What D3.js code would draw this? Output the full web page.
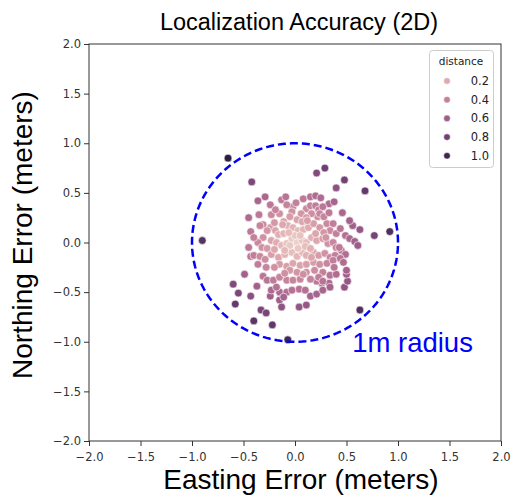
<!DOCTYPE html>
<html>
<head>
<meta charset="utf-8">
<script src="https://cdn.jsdelivr.net/npm/d3@7"></script>
<style>
  body { margin: 0; background: #fff; }
  svg { display: block; }
  .tick text { font-family: "DejaVu Sans", sans-serif; font-size: 11.5px; fill: #333; }
  .tick line { stroke: #333; }
</style>
</head>
<body>
<div id="chart"></div>
<script>
// easting / northing error (meters) for each fix
var errX = [
  -0.65, 0.21, 0.29, -0.42, 0.48, 0.40, 0.68, -0.90, 0.92, 0.77, 0.63, 0.56, 0.53,
  0.63, -0.07, -0.40, -0.22, -0.33, -0.28, -0.58, -0.55, -0.60, -0.43, -0.49, -0.37,
  -0.24, -0.15, -0.15, -0.13, -0.08, 0.04, 0.11, 0.04, 0.48, 0.51, 0.50, 0.33, 0.26,
  0.21, -0.43, -0.43, -0.36, -0.29, -0.13, -0.09, 0.08, 0.15, 0.20, 0.25, 0.33, 0.38,
  -0.24, -0.23, -0.02, -0.03, 0.11, 0.06, 0.15, 0.20, 0.23, 0.27, 0.22, 0.24, 0.16,
  0.11, 0.02, 0.07, -0.05, -0.11, -0.07, -0.15, -0.31, -0.34, -0.24, -0.27, -0.19,
  -0.16, -0.11, -0.02, 0.03, 0.08, 0.13, 0.18, 0.24, 0.31, 0.37, 0.34, 0.40, 0.44,
  0.49, 0.53, 0.58, 0.61, -0.31, -0.36, -0.32, -0.27, -0.23, -0.18, -0.13, -0.08,
  -0.03, 0.02, 0.07, 0.11, 0.16, 0.21, 0.27, 0.32, 0.37, 0.40, 0.45, 0.49, -0.40,
  -0.34, -0.29, -0.23, -0.16, -0.10, -0.03, 0.02, 0.07, 0.11, 0.18, 0.23, 0.29, 0.34,
  0.39, -0.15, -0.08, -0.02, 0.05, 0.11, 0.18, 0.24, 0.31, 0.37, 0.44, 0.47, -0.05,
  0.02, 0.11, 0.19, 0.27, 0.34, 0.40, -0.31, -0.27, -0.21, -0.15, -0.08, -0.02, 0.05,
  0.15, 0.23, 0.27, 0.50, -0.23, -0.18, -0.03, 0.10, 0.15, 0.21, 0.27, 0.34, -0.11,
  -0.05, 0.03, 0.10, 0.00, -0.10, 0.15, 0.05, -0.06,
  -0.19, -0.35, -0.08, 0.01, 0.28, 0.33, -0.40, -0.45, -0.20, -0.12, 0.20, 0.28,
  0.16, 0.43, 0.38, -0.20, -0.28, -0.36, 0.08, -0.10, 0.30, -0.45, 0.46, 0.12, -0.20
];
var errY = [
  0.85, 0.70, 0.75, 0.61, 0.63, 0.55, 0.52, 0.02, 0.11, 0.07, 0.13, 0.17, 0.22,
  -0.68, -0.98, -0.79, -0.83, -0.68, -0.71, -0.62, -0.51, -0.42, -0.54, -0.32, -0.44,
  -0.54, -0.50, -0.58, -0.65, -0.50, -0.65, -0.63, -0.47, -0.45, -0.39, -0.32, -0.41, -0.41,
  -0.39, 0.11, -0.14, 0.42, 0.46, 0.43, 0.46, 0.44, 0.46, 0.47, 0.45, 0.39, 0.41,
  0.38, 0.28, 0.36, 0.31, 0.34, 0.29, 0.37, 0.37, 0.33, 0.36, 0.26, 0.29, 0.29,
  0.25, 0.23, 0.21, 0.26, 0.21, 0.17, 0.29, 0.18, 0.17, 0.15, 0.12, 0.12,
  0.08, 0.09, 0.15, 0.12, 0.13, 0.15, 0.19, 0.15, 0.19, 0.19, 0.12, 0.09, 0.14,
  0.07, 0.04, 0.01, -0.03, 0.05, 0.00, -0.05, -0.06, 0.02, 0.00, -0.03, -0.01,
  0.04, 0.00, 0.02, 0.00, 0.05, 0.02, 0.04, -0.01, 0.00, -0.05, -0.08, -0.12, -0.13,
  -0.14, -0.17, -0.12, -0.15, -0.12, -0.10, -0.14, -0.10, -0.13, -0.10, -0.13, -0.11, -0.15,
  -0.13, -0.22, -0.24, -0.21, -0.23, -0.22, -0.20, -0.22, -0.21, -0.18, -0.16, -0.20, -0.28,
  -0.30, -0.30, -0.28, -0.30, -0.33, -0.32, -0.34, -0.38, -0.38, -0.35, -0.38, -0.38, -0.37,
  -0.37, -0.35, -0.39, -0.28, -0.48, -0.45, -0.48, -0.48, -0.54, -0.52, -0.48, -0.45, -0.55,
  -0.03, -0.06, -0.04, 0.07, -0.08, -0.06, 0.07, 0.10,
  0.33, 0.28, 0.38, 0.40, 0.26, 0.30, 0.05, -0.05, -0.07, 0.18, 0.09, 0.10,
  -0.15, -0.05, -0.25, -0.25, -0.25, -0.22, -0.32, -0.31, 0.05, 0.25, 0.30, 0.22, 0.20
];
var legendTicks = [0.2, 0.4, 0.6, 0.8, 1.0];
var axisTicks = [-2.0, -1.5, -1.0, -0.5, 0.0, 0.5, 1.0, 1.5, 2.0];
var radiusMeters = 1;

var W = 511, H = 496;
var svg = d3.select('#chart').append('svg').attr('width', W).attr('height', H);

var x = d3.scaleLinear().domain([-2, 2]).range([89, 501]);
var y = d3.scaleLinear().domain([-2, 2]).range([441, 44]);

// seaborn default "ch:" cubehelix colormap (light -> dark)
function cubehelix(t){
    var v = 0.85 + (0.15 - 0.85) * t;
    var a = 0.8 * v * (1 - v) / 2;
    var phi = 2 * Math.PI * (0 / 3 + 0.4 * v);
    var c = function(p0, p1){
        var r = v + a * (p0 * Math.cos(phi) + p1 * Math.sin(phi));
        return Math.round(Math.max(0, Math.min(1, r)) * 255);
    };
    return 'rgb(' + c(-0.14861, 1.78277) + ',' + c(-0.29227, -0.90649) + ',' + c(1.97294, 0) + ')';
}

var points = errX.map(function(d, i){
    return { x: d, y: errY[i], dist: Math.hypot(d, errY[i]) };
});
var norm = d3.scaleLinear().domain(d3.extent(points, function(d){ return d.dist; })).range([0, 1]).clamp(true);

// axes
var gx = svg.append('g').attr('transform', 'translate(0,441)')
    .call(d3.axisBottom(x).tickValues(axisTicks).tickFormat(d3.format('.1f')).tickSizeOuter(0).tickSize(5));
var gy = svg.append('g').attr('transform', 'translate(89,0)')
    .call(d3.axisLeft(y).tickValues(axisTicks).tickFormat(d3.format('.1f')).tickSizeOuter(0).tickSize(5));
gx.select('.domain').remove();
gy.select('.domain').remove();
gx.selectAll('.tick text').attr('dy', '1.05em');
gy.selectAll('.tick text').attr('x', -8);

svg.append('rect')
    .attr('x', 89).attr('y', 44)
    .attr('width', 412).attr('height', 397)
    .attr('fill', 'none').attr('stroke', '#333').attr('stroke-width', 1);

// points
svg.append('g').selectAll('circle')
    .data(points)
    .enter()
    .append('circle')
    .attr('cx', function(d){ return x(d.x); })
    .attr('cy', function(d){ return y(d.y); })
    .attr('r', 3.9)
    .attr('fill', function(d){ return cubehelix(norm(d.dist)); })
    .attr('stroke', '#fff')
    .attr('stroke-width', 0.6);

// 1m radius ring
var ring = d3.range(0, 361, 2).map(function(a){
    var t = a * Math.PI / 180;
    return [radiusMeters * Math.cos(t), radiusMeters * Math.sin(t)];
});
svg.append('path')
    .datum(ring)
    .attr('d', d3.line().x(function(d){ return x(d[0]); }).y(function(d){ return y(d[1]); }))
    .attr('fill', 'none')
    .attr('stroke', '#0000ff')
    .attr('stroke-width', 2.5)
    .attr('stroke-dasharray', '8,4');

svg.append('text')
    .attr('x', x(0.555)).attr('y', y(-1.1))
    .attr('font-family', 'Liberation Sans, Arial, sans-serif')
    .attr('font-size', 27.5)
    .attr('fill', '#0000ff')
    .text('1m radius');

// titles
svg.append('text')
    .attr('x', 299).attr('y', 30)
    .attr('text-anchor', 'middle')
    .attr('font-family', 'Liberation Sans, Arial, sans-serif')
    .attr('font-size', 23.5)
    .text('Localization Accuracy (2D)');

svg.append('text')
    .attr('x', 301).attr('y', 489)
    .attr('text-anchor', 'middle')
    .attr('font-family', 'Liberation Sans, Arial, sans-serif')
    .attr('font-size', 28)
    .text('Easting Error (meters)');

svg.append('text')
    .attr('transform', 'translate(32,235) rotate(-90)')
    .attr('text-anchor', 'middle')
    .attr('font-family', 'Liberation Sans, Arial, sans-serif')
    .attr('font-size', 28)
    .text('Northing Error (meters)');

// legend
var lg = svg.append('g');
lg.append('rect')
    .attr('x', 429.5).attr('y', 50.5)
    .attr('width', 64).attr('height', 117)
    .attr('rx', 3)
    .attr('fill', '#fff').attr('fill-opacity', 0.8)
    .attr('stroke', '#ccc');
lg.append('text')
    .attr('x', 461).attr('y', 65)
    .attr('text-anchor', 'middle')
    .attr('font-family', 'DejaVu Sans, sans-serif')
    .attr('font-size', 10.5)
    .attr('fill', '#222')
    .text('distance');
var rows = lg.selectAll('g.row')
    .data(legendTicks)
    .enter()
    .append('g')
    .attr('class', 'row')
    .attr('transform', function(d, i){ return 'translate(0,' + (81 + i * 18.7) + ')'; });
rows.append('circle')
    .attr('cx', 447).attr('cy', 0).attr('r', 3.3)
    .attr('fill', function(d){ return cubehelix(norm(d)); })
    .attr('stroke', '#fff').attr('stroke-width', 0.5);
rows.append('text')
    .attr('x', 489).attr('y', 0).attr('dy', '0.35em')
    .attr('text-anchor', 'end')
    .attr('font-family', 'DejaVu Sans, sans-serif')
    .attr('font-size', 11.5)
    .attr('fill', '#222')
    .text(function(d){ return d.toFixed(1); });
</script>
</body>
</html>
